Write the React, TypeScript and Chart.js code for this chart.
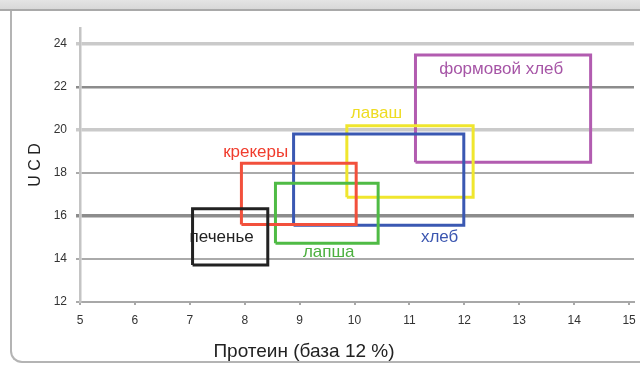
import React, { useEffect, useRef } from "react";
import { Chart, registerables } from "chart.js";

Chart.register(...registerables);

const boxNames = ["печенье", "крекеры", "лапша", "хлеб", "лаваш", "формовой хлеб"];
const boxX1 = [7.05, 7.94, 8.56, 8.89, 9.86, 11.11];
const boxX2 = [8.42, 10.03, 10.43, 11.99, 12.16, 14.3];
const boxY1 = [13.72, 15.6, 14.73, 15.57, 16.87, 18.5];
const boxY2 = [16.33, 18.45, 17.52, 19.81, 20.19, 23.49];
const boxColors = ["#222222", "#f2503c", "#4fbb45", "#3a58b2", "#f0e62e", "#b25cb0"];
const labelColors = ["#222222", "#f03c2d", "#4cb03f", "#3b56b0", "#eedc22", "#a655a6"];
const labelX = [7.58, 8.2, 9.53, 11.55, 10.4, 12.67];
const labelY = [15.02, 18.98, 14.33, 15.02, 20.79, 22.84];

const xTicks = [5, 6, 7, 8, 9, 10, 11, 12, 13, 14, 15];
const yTicks = [12, 14, 16, 18, 20, 22, 24];
const yGridColors = ["#aaaaaa", "#aaaaaa", "#8c8c8c", "#aaaaaa", "#cacaca", "#8c8c8c", "#cacaca"];
const yGridWidths = [2, 2, 3.5, 2, 3.5, 2.5, 3.5];

const xTitle = "Протеин (база 12 %)";
const yTitle = "U C D";

const FONT = "'Liberation Sans', Arial, sans-serif";

export default function App() {
  const ref = useRef<HTMLCanvasElement | null>(null);

  useEffect(() => {
    if (!ref.current) return;

    const datasets = boxNames.map((name, i) => ({
      label: name,
      data: [
        { x: boxX1[i], y: boxY1[i] },
        { x: boxX2[i], y: boxY1[i] },
        { x: boxX2[i], y: boxY2[i] },
        { x: boxX1[i], y: boxY2[i] },
        { x: boxX1[i], y: boxY1[i] },
      ],
      showLine: true,
      borderColor: boxColors[i],
      backgroundColor: boxColors[i],
      borderWidth: 3,
      pointRadius: 0,
      borderJoinStyle: "miter" as const,
      fill: false,
    }));

    const labelsPlugin = {
      id: "boxLabels",
      afterDatasetsDraw(chart: any) {
        const { ctx, scales } = chart;
        ctx.save();
        ctx.font = `17px ${FONT}`;
        ctx.textAlign = "center";
        ctx.textBaseline = "middle";
        boxNames.forEach((name, i) => {
          ctx.fillStyle = labelColors[i];
          ctx.fillText(name, scales.x.getPixelForValue(labelX[i]), scales.y.getPixelForValue(labelY[i]));
        });
        ctx.fillStyle = "#222222";
        ctx.font = `19px ${FONT}`;
        ctx.fillText(xTitle, 304, 352);
        ctx.restore();
      },
    };

    const chart = new Chart(ref.current, {
      type: "scatter",
      data: { datasets },
      options: {
        animation: false,
        responsive: false,
        maintainAspectRatio: false,
        layout: { padding: { left: 26, top: 28, right: 6, bottom: 0 } },
        plugins: { legend: { display: false }, tooltip: { enabled: false } },
        scales: {
          x: {
            type: "linear",
            min: 5,
            max: 15.09,
            afterBuildTicks: (axis: any) => {
              axis.ticks = xTicks.map((v) => ({ value: v }));
            },
            afterFit: (scale: any) => {
              scale.height = 63;
              scale.paddingLeft = 0;
              scale.paddingRight = 0;
            },
            border: { display: true, color: "#a8a8a8", width: 2 },
            grid: { drawOnChartArea: false, drawTicks: true, tickLength: 3, color: "#a8a8a8", lineWidth: 2 },
            ticks: { color: "#333333", font: { family: FONT, size: 12 }, padding: 8, maxRotation: 0, autoSkip: false },
          },
          y: {
            type: "linear",
            min: 12,
            max: 24.74,
            afterBuildTicks: (axis: any) => {
              axis.ticks = yTicks.map((v) => ({ value: v }));
            },
            afterFit: (scale: any) => {
              scale.width = 54;
              scale.paddingTop = 0;
              scale.paddingBottom = 0;
            },
            border: { display: true, color: "#c4c4c4", width: 2.5 },
            grid: {
              drawOnChartArea: true,
              drawTicks: true,
              tickLength: 4,
              color: (c: any) => yGridColors[c.index] ?? "#aaaaaa",
              lineWidth: (c: any) => yGridWidths[c.index] ?? 2,
            },
            ticks: { color: "#333333", font: { family: FONT, size: 12 }, padding: 9, autoSkip: false },
            title: { display: true, text: yTitle, color: "#222222", font: { family: FONT, size: 16 }, padding: { top: 0, bottom: 0 } },
          },
        },
      },
      plugins: [labelsPlugin],
    });

    return () => chart.destroy();
  }, []);

  return (
    <div style={{ position: "fixed", left: 0, top: 0, width: 640, height: 365, overflow: "hidden", background: "#ffffff" }}>
      <div style={{ position: "absolute", left: 0, top: 0, width: 640, height: 9, background: "linear-gradient(#e4e4e4, #d8d8d8)", borderBottom: "2px solid #a9a9a9" }} />
      <div
        style={{
          position: "absolute",
          left: 10,
          top: 11,
          width: 700,
          height: 352,
          borderLeft: "2px solid #b4b4b4",
          borderBottom: "2px solid #b4b4b4",
          borderBottomLeftRadius: 12,
          boxSizing: "border-box",
        }}
      />
      <canvas ref={ref} width={640} height={365} style={{ position: "absolute", left: 0, top: 0, width: 640, height: 365 }} />
    </div>
  );
}
